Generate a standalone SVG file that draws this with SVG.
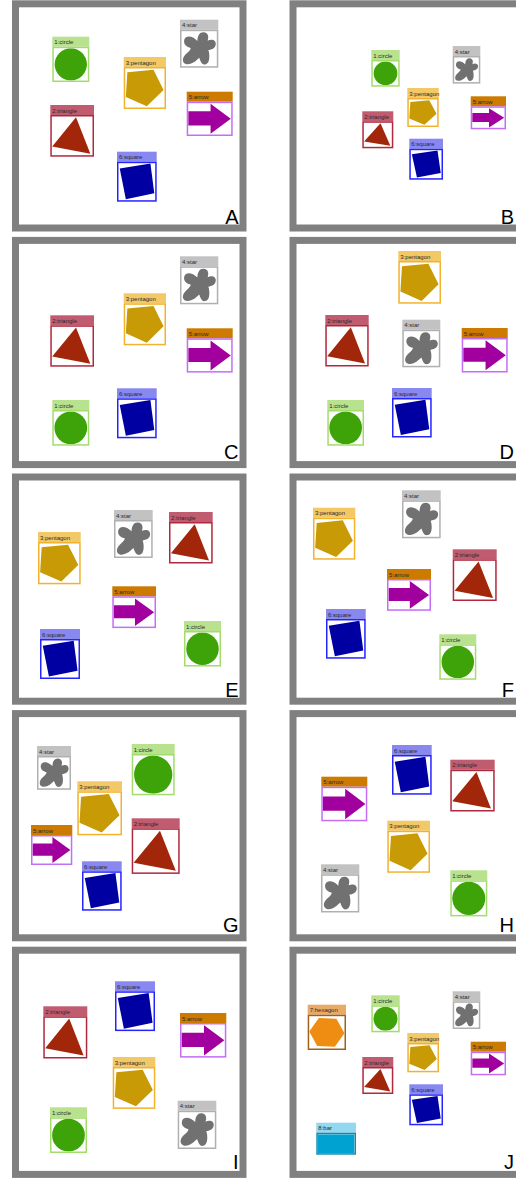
<svg xmlns="http://www.w3.org/2000/svg" xmlns:xlink="http://www.w3.org/1999/xlink" width="516" height="1178" viewBox="0 0 516 1178">
<style>
.frame{fill:#fff;stroke:#808080;stroke-width:7}
.pl{font-family:"Liberation Sans",Arial,sans-serif;font-size:20px;fill:#000;text-anchor:end}
.lbl{font-family:"Liberation Sans",Arial,sans-serif;font-size:6px;fill:#2a2a2a}
.box{fill:#fff;stroke-width:1.5}
.circle .hd{fill:#b9e28e}.circle .box{stroke:#a2dc6c}
.triangle .hd{fill:#c15c70}.triangle .box{stroke:#b0283e}
.pentagon .hd{fill:#f3c866}.pentagon .box{stroke:#f2b22e}
.star .hd{fill:#c2c2c2}.star .box{stroke:#b0b0b0}
.arrow .hd{fill:#cc7b00}.arrow .box{stroke:#c46ef6}
.square .hd{fill:#8888f0}.square .box{stroke:#2424ff}
.hexagon .hd{fill:#e9aa66}.hexagon .box{stroke:#a0621a}
.bar .hd{fill:#92d8f0}.bar .box{stroke:#1a86a8}
</style>
<defs>
<symbol id="s-circle" viewBox="0 0 100 100" preserveAspectRatio="xMidYMid meet"><circle cx="50" cy="50" r="50" fill="#3ea308"/></symbol>
<symbol id="s-triangle" viewBox="0 0 100 100" preserveAspectRatio="none"><polygon points="59.5,2 1,77.5 94.7,96" fill="#a2260a"/></symbol>
<symbol id="s-pentagon" viewBox="0 0 100 100" preserveAspectRatio="none"><polygon points="5.5,9.5 72,3 97.6,55 55,97 1.6,73" fill="#c89a06"/></symbol>
<symbol id="s-star" viewBox="0 0 100 100" preserveAspectRatio="none"><path d="M45,28 C45,12 52,2 63,3 C76,4 78,16 74,27 C84,22 98,24 97,37 C96,50 84,52 76,54 C80,64 82,92 68,95 C56,98 54,84 50,76 C42,84 28,98 12,94 C0,90 2,74 14,64 C22,58 26,52 26,48 C16,46 4,38 8,24 C12,12 30,12 45,28 Z" fill="#717171"/></symbol>
<symbol id="s-arrow" viewBox="0 0 100 100" preserveAspectRatio="none"><polygon points="0,26 52,26 52,2 99,50 52,98 52,71 0,71" fill="#a2009e"/></symbol>
<symbol id="s-square" viewBox="0 0 100 100" preserveAspectRatio="none"><polygon points="3.4,14.3 87,0.8 97.5,81.5 20,97.5" fill="#0000a2"/></symbol>
<symbol id="s-hexagon" viewBox="0 0 100 100" preserveAspectRatio="none"><polygon points="0.1,47.4 27.3,5.4 77.2,8.1 99.9,52.6 72.7,94.6 22.8,91.9" fill="#ef8d12"/></symbol>
<symbol id="s-bar" viewBox="0 0 100 100" preserveAspectRatio="none"><rect x="0" y="0" width="100" height="100" fill="#00a2d2"/></symbol>
</defs>

<g id="frames">
<rect class="frame" x="15.5" y="3.8" width="227.5" height="224.2"/>
<rect class="frame" x="293" y="3.8" width="227.5" height="224.2"/>
<rect class="frame" x="15.5" y="240.4" width="227.5" height="224.2"/>
<rect class="frame" x="293" y="240.4" width="227.5" height="224.2"/>
<rect class="frame" x="15.5" y="477" width="227.5" height="224.2"/>
<rect class="frame" x="293" y="477" width="227.5" height="224.2"/>
<rect class="frame" x="15.5" y="713.6" width="227.5" height="224.2"/>
<rect class="frame" x="293" y="713.6" width="227.5" height="224.2"/>
<rect class="frame" x="15.5" y="950.2" width="227.5" height="224.2"/>
<rect class="frame" x="293" y="950.2" width="227.5" height="224.2"/>
</g>
<g id="panel-labels">
<text class="pl" x="238.5" y="224">A</text>
<text class="pl" x="514" y="224">B</text>
<text class="pl" x="238.5" y="458.5">C</text>
<text class="pl" x="514" y="459.3">D</text>
<text class="pl" x="238.5" y="696.7">E</text>
<text class="pl" x="514" y="697.3">F</text>
<text class="pl" x="238.5" y="932">G</text>
<text class="pl" x="514" y="932">H</text>
<text class="pl" x="238.5" y="1169.3">I</text>
<text class="pl" x="514" y="1168.7">J</text>
</g>
<g id="connectors"></g>

<!-- Panel A -->
<g id="a-circle" class="circle" transform="translate(52.3 36.7)"><rect class="hd" width="37" height="10"/><text class="lbl" x="2" y="7.5">1:circle</text><rect class="box" x="0.75" y="10.75" width="35.5" height="33.8"/><use href="#s-circle" x="1.5" y="11.5" width="34" height="32.3"/></g>
<g id="a-star" class="star" transform="translate(180 19.7)"><rect class="hd" width="38.3" height="10"/><text class="lbl" x="2" y="7.5">4:star</text><rect class="box" x="0.75" y="10.75" width="36.8" height="36.5"/><use href="#s-star" x="1.5" y="11.5" width="35.3" height="35"/></g>
<g id="a-pentagon" class="pentagon" transform="translate(123.7 57)"><rect class="hd" width="42.3" height="10"/><text class="lbl" x="2" y="7.5">3:pentagon</text><rect class="box" x="0.75" y="10.75" width="40.8" height="40.5"/><use href="#s-pentagon" x="1.5" y="11.5" width="39.3" height="39"/></g>
<g id="a-arrow" class="arrow" transform="translate(186.7 91.7)"><rect class="hd" width="46" height="10"/><text class="lbl" x="2" y="7.5">5:arrow</text><rect class="box" x="0.75" y="10.75" width="44.5" height="32.8"/><use href="#s-arrow" x="1.5" y="11.5" width="43" height="31.3"/></g>
<g id="a-triangle" class="triangle" transform="translate(50.3 105)"><rect class="hd" width="43.7" height="10"/><text class="lbl" x="2" y="7.5">2:triangle</text><rect class="box" x="0.75" y="10.75" width="42.2" height="40.2"/><use href="#s-triangle" x="1.5" y="11.5" width="40.7" height="38.7"/></g>
<g id="a-square" class="square" transform="translate(117 151.7)"><rect class="hd" width="39.7" height="10"/><text class="lbl" x="2" y="7.5">6:square</text><rect class="box" x="0.75" y="10.75" width="38.2" height="38.5"/><use href="#s-square" x="1.5" y="11.5" width="36.7" height="37"/></g>

<!-- Panel B -->
<g id="b-circle" class="circle" transform="translate(371.3 50)"><rect class="hd" width="28.4" height="10"/><text class="lbl" x="2" y="7.5">1:circle</text><rect class="box" x="0.75" y="10.75" width="26.9" height="25.2"/><use href="#s-circle" x="1.5" y="11.5" width="25.4" height="23.7"/></g>
<g id="b-star" class="star" transform="translate(452.7 46)"><rect class="hd" width="27.6" height="10"/><text class="lbl" x="2" y="7.5">4:star</text><rect class="box" x="0.75" y="10.75" width="26.1" height="26.1"/><use href="#s-star" x="1.5" y="11.5" width="24.6" height="24.6"/></g>
<g id="b-pentagon" class="pentagon" transform="translate(407.3 88)"><rect class="hd" width="31.4" height="10"/><text class="lbl" x="2" y="7.5">3:pentagon</text><rect class="box" x="0.75" y="10.75" width="29.9" height="27.5"/><use href="#s-pentagon" x="1.5" y="11.5" width="28.4" height="26"/></g>
<g id="b-arrow" class="arrow" transform="translate(470.7 96.3)"><rect class="hd" width="35.3" height="10"/><text class="lbl" x="2" y="7.5">5:arrow</text><rect class="box" x="0.75" y="10.75" width="33.8" height="21.5"/><use href="#s-arrow" x="1.5" y="11.5" width="32.3" height="20"/></g>
<g id="b-triangle" class="triangle" transform="translate(362.3 111.3)"><rect class="hd" width="31" height="10"/><text class="lbl" x="2" y="7.5">2:triangle</text><rect class="box" x="0.75" y="10.75" width="29.5" height="25.5"/><use href="#s-triangle" x="1.5" y="11.5" width="28" height="24"/></g>
<g id="b-square" class="square" transform="translate(409.3 138.7)"><rect class="hd" width="33.7" height="10"/><text class="lbl" x="2" y="7.5">6:square</text><rect class="box" x="0.75" y="10.75" width="32.2" height="29.5"/><use href="#s-square" x="1.5" y="11.5" width="30.7" height="28"/></g>

<!-- Panel C -->
<g id="c-star" class="star" transform="translate(180 256.3)"><rect class="hd" width="38.3" height="10"/><text class="lbl" x="2" y="7.5">4:star</text><rect class="box" x="0.75" y="10.75" width="36.8" height="36.5"/><use href="#s-star" x="1.5" y="11.5" width="35.3" height="35"/></g>
<g id="c-pentagon" class="pentagon" transform="translate(123.7 293.3)"><rect class="hd" width="42.3" height="10"/><text class="lbl" x="2" y="7.5">3:pentagon</text><rect class="box" x="0.75" y="10.75" width="40.8" height="40.5"/><use href="#s-pentagon" x="1.5" y="11.5" width="39.3" height="39"/></g>
<g id="c-arrow" class="arrow" transform="translate(186.7 328.3)"><rect class="hd" width="46" height="10"/><text class="lbl" x="2" y="7.5">5:arrow</text><rect class="box" x="0.75" y="10.75" width="44.5" height="32.8"/><use href="#s-arrow" x="1.5" y="11.5" width="43" height="31.3"/></g>
<g id="c-square" class="square" transform="translate(117 388.3)"><rect class="hd" width="39.7" height="10"/><text class="lbl" x="2" y="7.5">6:square</text><rect class="box" x="0.75" y="10.75" width="38.2" height="38.5"/><use href="#s-square" x="1.5" y="11.5" width="36.7" height="37"/></g>
<g id="c-triangle" class="triangle" transform="translate(50.3 315.3)"><rect class="hd" width="43.7" height="10"/><text class="lbl" x="2" y="7.5">2:triangle</text><rect class="box" x="0.75" y="10.75" width="42.2" height="39.9"/><use href="#s-triangle" x="1.5" y="11.5" width="40.7" height="38.4"/></g>
<g id="c-circle" class="circle" transform="translate(52.3 400)"><rect class="hd" width="37" height="10"/><text class="lbl" x="2" y="7.5">1:circle</text><rect class="box" x="0.75" y="10.75" width="35.5" height="34.2"/><use href="#s-circle" x="1.5" y="11.5" width="34" height="32.7"/></g>

<!-- Panel D -->
<g id="d-pentagon" class="pentagon" transform="translate(398.3 251)"><rect class="hd" width="42.7" height="10"/><text class="lbl" x="2" y="7.5">3:pentagon</text><rect class="box" x="0.75" y="10.75" width="41.2" height="41.2"/><use href="#s-pentagon" x="1.5" y="11.5" width="39.7" height="39.7"/></g>
<g id="d-triangle" class="triangle" transform="translate(325.3 315)"><rect class="hd" width="43.4" height="10"/><text class="lbl" x="2" y="7.5">2:triangle</text><rect class="box" x="0.75" y="10.75" width="41.9" height="40"/><use href="#s-triangle" x="1.5" y="11.5" width="40.4" height="38.5"/></g>
<g id="d-star" class="star" transform="translate(402.3 319.7)"><rect class="hd" width="38" height="10"/><text class="lbl" x="2" y="7.5">4:star</text><rect class="box" x="0.75" y="10.75" width="36.5" height="36.1"/><use href="#s-star" x="1.5" y="11.5" width="35" height="34.6"/></g>
<g id="d-arrow" class="arrow" transform="translate(461.7 328)"><rect class="hd" width="46" height="10"/><text class="lbl" x="2" y="7.5">5:arrow</text><rect class="box" x="0.75" y="10.75" width="44.5" height="33"/><use href="#s-arrow" x="1.5" y="11.5" width="43" height="31.5"/></g>
<g id="d-circle" class="circle" transform="translate(327.3 400)"><rect class="hd" width="36.7" height="10"/><text class="lbl" x="2" y="7.5">1:circle</text><rect class="box" x="0.75" y="10.75" width="35.2" height="34.2"/><use href="#s-circle" x="1.5" y="11.5" width="33.7" height="32.7"/></g>
<g id="d-square" class="square" transform="translate(392 388)"><rect class="hd" width="39.7" height="10"/><text class="lbl" x="2" y="7.5">6:square</text><rect class="box" x="0.75" y="10.75" width="38.2" height="38"/><use href="#s-square" x="1.5" y="11.5" width="36.7" height="36.5"/></g>

<!-- Panel E -->
<g id="e-star" class="star" transform="translate(114 510)"><rect class="hd" width="38.7" height="10"/><text class="lbl" x="2" y="7.5">4:star</text><rect class="box" x="0.75" y="10.75" width="37.2" height="36.5"/><use href="#s-star" x="1.5" y="11.5" width="35.7" height="35"/></g>
<g id="e-triangle" class="triangle" transform="translate(169 512)"><rect class="hd" width="43.7" height="10"/><text class="lbl" x="2" y="7.5">2:triangle</text><rect class="box" x="0.75" y="10.75" width="42.2" height="40"/><use href="#s-triangle" x="1.5" y="11.5" width="40.7" height="38.5"/></g>
<g id="e-pentagon" class="pentagon" transform="translate(38 532)"><rect class="hd" width="42.7" height="10"/><text class="lbl" x="2" y="7.5">3:pentagon</text><rect class="box" x="0.75" y="10.75" width="41.2" height="40.8"/><use href="#s-pentagon" x="1.5" y="11.5" width="39.7" height="39.3"/></g>
<g id="e-arrow" class="arrow" transform="translate(112.3 586.3)"><rect class="hd" width="43.7" height="10"/><text class="lbl" x="2" y="7.5">5:arrow</text><rect class="box" x="0.75" y="10.75" width="42.2" height="30.3"/><use href="#s-arrow" x="1.5" y="11.5" width="40.7" height="28.8"/></g>
<g id="e-circle" class="circle" transform="translate(184 621)"><rect class="hd" width="37" height="10"/><text class="lbl" x="2" y="7.5">1:circle</text><rect class="box" x="0.75" y="10.75" width="35.5" height="34"/><use href="#s-circle" x="1.5" y="11.5" width="34" height="32.5"/></g>
<g id="e-square" class="square" transform="translate(40 629)"><rect class="hd" width="40" height="10"/><text class="lbl" x="2" y="7.5">6:square</text><rect class="box" x="0.75" y="10.75" width="38.5" height="38.5"/><use href="#s-square" x="1.5" y="11.5" width="37" height="37"/></g>

<!-- Panel F -->
<g id="f-star" class="star" transform="translate(402 490.3)"><rect class="hd" width="38.7" height="10"/><text class="lbl" x="2" y="7.5">4:star</text><rect class="box" x="0.75" y="10.75" width="37.2" height="36.5"/><use href="#s-star" x="1.5" y="11.5" width="35.7" height="35"/></g>
<g id="f-pentagon" class="pentagon" transform="translate(313 507.7)"><rect class="hd" width="42.3" height="10"/><text class="lbl" x="2" y="7.5">3:pentagon</text><rect class="box" x="0.75" y="10.75" width="40.8" height="40.5"/><use href="#s-pentagon" x="1.5" y="11.5" width="39.3" height="39"/></g>
<g id="f-triangle" class="triangle" transform="translate(452.7 549.3)"><rect class="hd" width="44" height="10"/><text class="lbl" x="2" y="7.5">2:triangle</text><rect class="box" x="0.75" y="10.75" width="42.5" height="40.2"/><use href="#s-triangle" x="1.5" y="11.5" width="41" height="38.7"/></g>
<g id="f-arrow" class="arrow" transform="translate(387 569)"><rect class="hd" width="44" height="10"/><text class="lbl" x="2" y="7.5">5:arrow</text><rect class="box" x="0.75" y="10.75" width="42.5" height="30.3"/><use href="#s-arrow" x="1.5" y="11.5" width="41" height="28.8"/></g>
<g id="f-square" class="square" transform="translate(326 609)"><rect class="hd" width="39.7" height="10"/><text class="lbl" x="2" y="7.5">6:square</text><rect class="box" x="0.75" y="10.75" width="38.2" height="38.2"/><use href="#s-square" x="1.5" y="11.5" width="36.7" height="36.7"/></g>
<g id="f-circle" class="circle" transform="translate(439.3 634.3)"><rect class="hd" width="37" height="10"/><text class="lbl" x="2" y="7.5">1:circle</text><rect class="box" x="0.75" y="10.75" width="35.5" height="34"/><use href="#s-circle" x="1.5" y="11.5" width="34" height="32.5"/></g>

<!-- Panel G -->
<g id="g-star" class="star" transform="translate(37 746)"><rect class="hd" width="34" height="10"/><text class="lbl" x="2" y="7.5">4:star</text><rect class="box" x="0.75" y="10.75" width="32.5" height="32.3"/><use href="#s-star" x="1.5" y="11.5" width="31" height="30.8"/></g>
<g id="g-circle" class="circle" transform="translate(131.7 744)"><rect class="hd" width="43" height="10"/><text class="lbl" x="2" y="7.5">1:circle</text><rect class="box" x="0.75" y="10.75" width="41.5" height="39.8"/><use href="#s-circle" x="1.5" y="11.5" width="40" height="38.3"/></g>
<g id="g-pentagon" class="pentagon" transform="translate(77.3 781.3)"><rect class="hd" width="44.7" height="10"/><text class="lbl" x="2" y="7.5">3:pentagon</text><rect class="box" x="0.75" y="10.75" width="43.2" height="42.5"/><use href="#s-pentagon" x="1.5" y="11.5" width="41.7" height="41"/></g>
<g id="g-triangle" class="triangle" transform="translate(131.7 818.3)"><rect class="hd" width="48" height="10"/><text class="lbl" x="2" y="7.5">2:triangle</text><rect class="box" x="0.75" y="10.75" width="46.5" height="44.1"/><use href="#s-triangle" x="1.5" y="11.5" width="45" height="42.6"/></g>
<g id="g-arrow" class="arrow" transform="translate(31 825)"><rect class="hd" width="41.3" height="10"/><text class="lbl" x="2" y="7.5">5:arrow</text><rect class="box" x="0.75" y="10.75" width="39.8" height="28.5"/><use href="#s-arrow" x="1.5" y="11.5" width="38.3" height="27"/></g>
<g id="g-square" class="square" transform="translate(82 861.3)"><rect class="hd" width="39.7" height="10"/><text class="lbl" x="2" y="7.5">6:square</text><rect class="box" x="0.75" y="10.75" width="38.2" height="37.9"/><use href="#s-square" x="1.5" y="11.5" width="36.7" height="36.4"/></g>

<!-- Panel H -->
<g id="h-square" class="square" transform="translate(392 745)"><rect class="hd" width="39.7" height="10"/><text class="lbl" x="2" y="7.5">6:square</text><rect class="box" x="0.75" y="10.75" width="38.2" height="38.2"/><use href="#s-square" x="1.5" y="11.5" width="36.7" height="36.7"/></g>
<g id="h-triangle" class="triangle" transform="translate(450.3 759.7)"><rect class="hd" width="44.4" height="10"/><text class="lbl" x="2" y="7.5">2:triangle</text><rect class="box" x="0.75" y="10.75" width="42.9" height="40.3"/><use href="#s-triangle" x="1.5" y="11.5" width="41.4" height="38.8"/></g>
<g id="h-arrow" class="arrow" transform="translate(321.3 776.7)"><rect class="hd" width="46" height="10"/><text class="lbl" x="2" y="7.5">5:arrow</text><rect class="box" x="0.75" y="10.75" width="44.5" height="33.1"/><use href="#s-arrow" x="1.5" y="11.5" width="43" height="31.6"/></g>
<g id="h-pentagon" class="pentagon" transform="translate(387.3 820.7)"><rect class="hd" width="42.7" height="10"/><text class="lbl" x="2" y="7.5">3:pentagon</text><rect class="box" x="0.75" y="10.75" width="41.2" height="40.6"/><use href="#s-pentagon" x="1.5" y="11.5" width="39.7" height="39.1"/></g>
<g id="h-star" class="star" transform="translate(321 864.3)"><rect class="hd" width="38.3" height="10"/><text class="lbl" x="2" y="7.5">4:star</text><rect class="box" x="0.75" y="10.75" width="36.8" height="36.7"/><use href="#s-star" x="1.5" y="11.5" width="35.3" height="35.2"/></g>
<g id="h-circle" class="circle" transform="translate(450.3 870.3)"><rect class="hd" width="37" height="10"/><text class="lbl" x="2" y="7.5">1:circle</text><rect class="box" x="0.75" y="10.75" width="35.5" height="34.6"/><use href="#s-circle" x="1.5" y="11.5" width="34" height="33.1"/></g>

<!-- Panel I -->
<g id="i-square" class="square" transform="translate(115 981.3)"><rect class="hd" width="40" height="10"/><text class="lbl" x="2" y="7.5">6:square</text><rect class="box" x="0.75" y="10.75" width="38.5" height="38.3"/><use href="#s-square" x="1.5" y="11.5" width="37" height="36.8"/></g>
<g id="i-triangle" class="triangle" transform="translate(43.3 1006.3)"><rect class="hd" width="44" height="10"/><text class="lbl" x="2" y="7.5">2:triangle</text><rect class="box" x="0.75" y="10.75" width="42.5" height="40.7"/><use href="#s-triangle" x="1.5" y="11.5" width="41" height="39.2"/></g>
<g id="i-arrow" class="arrow" transform="translate(180 1013)"><rect class="hd" width="46.3" height="10"/><text class="lbl" x="2" y="7.5">5:arrow</text><rect class="box" x="0.75" y="10.75" width="44.8" height="33.1"/><use href="#s-arrow" x="1.5" y="11.5" width="43.3" height="31.6"/></g>
<g id="i-pentagon" class="pentagon" transform="translate(112.7 1057)"><rect class="hd" width="42.6" height="10"/><text class="lbl" x="2" y="7.5">3:pentagon</text><rect class="box" x="0.75" y="10.75" width="41.1" height="40.4"/><use href="#s-pentagon" x="1.5" y="11.5" width="39.6" height="38.9"/></g>
<g id="i-circle" class="circle" transform="translate(50 1107.3)"><rect class="hd" width="37" height="10"/><text class="lbl" x="2" y="7.5">1:circle</text><rect class="box" x="0.75" y="10.75" width="35.5" height="34.2"/><use href="#s-circle" x="1.5" y="11.5" width="34" height="32.7"/></g>
<g id="i-star" class="star" transform="translate(177.7 1100.7)"><rect class="hd" width="38.6" height="10"/><text class="lbl" x="2" y="7.5">4:star</text><rect class="box" x="0.75" y="10.75" width="37.1" height="36.8"/><use href="#s-star" x="1.5" y="11.5" width="35.6" height="35.3"/></g>

<!-- Panel J -->
<g id="j-hexagon" class="hexagon" transform="translate(307.7 1004.7)"><rect class="hd" width="38.3" height="10"/><text class="lbl" x="2" y="7.5">7:hexagon</text><rect class="box" x="0.75" y="10.75" width="36.8" height="33.8"/><use href="#s-hexagon" x="1.5" y="11.5" width="35.3" height="32.3"/></g>
<g id="j-circle" class="circle" transform="translate(371.3 995.3)"><rect class="hd" width="28.4" height="10"/><text class="lbl" x="2" y="7.5">1:circle</text><rect class="box" x="0.75" y="10.75" width="26.9" height="25.5"/><use href="#s-circle" x="1.5" y="11.5" width="25.4" height="24"/></g>
<g id="j-star" class="star" transform="translate(452.7 991.3)"><rect class="hd" width="27.6" height="10"/><text class="lbl" x="2" y="7.5">4:star</text><rect class="box" x="0.75" y="10.75" width="26.1" height="26.2"/><use href="#s-star" x="1.5" y="11.5" width="24.6" height="24.7"/></g>
<g id="j-pentagon" class="pentagon" transform="translate(407.3 1033)"><rect class="hd" width="31.7" height="10"/><text class="lbl" x="2" y="7.5">3:pentagon</text><rect class="box" x="0.75" y="10.75" width="30.2" height="27.8"/><use href="#s-pentagon" x="1.5" y="11.5" width="28.7" height="26.3"/></g>
<g id="j-arrow" class="arrow" transform="translate(470.7 1041.7)"><rect class="hd" width="35.3" height="10"/><text class="lbl" x="2" y="7.5">5:arrow</text><rect class="box" x="0.75" y="10.75" width="33.8" height="22.1"/><use href="#s-arrow" x="1.5" y="11.5" width="32.3" height="20.6"/></g>
<g id="j-triangle" class="triangle" transform="translate(362.3 1057)"><rect class="hd" width="31" height="10"/><text class="lbl" x="2" y="7.5">2:triangle</text><rect class="box" x="0.75" y="10.75" width="29.5" height="25.5"/><use href="#s-triangle" x="1.5" y="11.5" width="28" height="24"/></g>
<g id="j-square" class="square" transform="translate(409.3 1084.3)"><rect class="hd" width="33.7" height="10"/><text class="lbl" x="2" y="7.5">6:square</text><rect class="box" x="0.75" y="10.75" width="32.2" height="29.5"/><use href="#s-square" x="1.5" y="11.5" width="30.7" height="28"/></g>
<g id="j-bar" class="bar" transform="translate(316.3 1122.7)"><rect class="hd" width="39.7" height="10"/><text class="lbl" x="2" y="7.5">8:bar</text><rect class="box" x="0.75" y="10.75" width="38.2" height="20.5"/><use href="#s-bar" x="1.5" y="11.5" width="36.7" height="19"/></g>
</svg>
